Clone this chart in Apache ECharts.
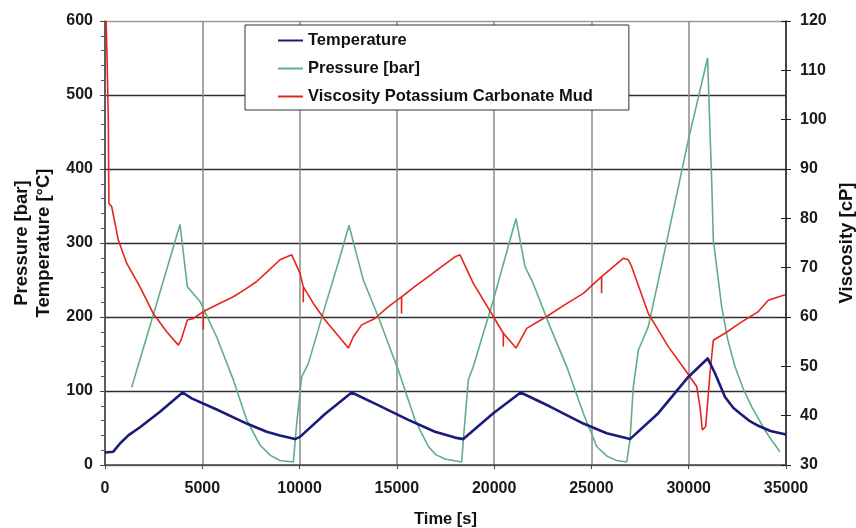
<!DOCTYPE html>
<html>
<head>
<meta charset="utf-8">
<script src="https://cdn.jsdelivr.net/npm/echarts@6/dist/echarts.min.js"></script>
<style>
  html, body { margin: 0; padding: 0; background: #fff; }
  #chart { width: 856px; height: 528px; }
</style>
</head>
<body>
<div id="chart"></div>
<script>
// Time axis ticks (s) and value-axis ticks
const timeTicks = [0, 5000, 10000, 15000, 20000, 25000, 30000, 35000];
const leftTicks = [0, 100, 200, 300, 400, 500, 600];
const rightTicks = [30, 40, 50, 60, 70, 80, 90, 100, 110, 120];

// Temperature [°C] vs time [s]
const tempTime = [0, 428, 771, 1200, 1799, 2827, 3991, 4454, 5739, 7281, 8310, 8994, 9765,
  10022, 11307, 12678, 13877, 15590, 16960, 17988, 18416, 19958, 21364, 22871, 24584, 25784,
  26982, 28437, 29979, 30974, 31351, 31865, 32300, 32723, 33100, 33576, 34200, 34948, 35000];
const tempValue = [17, 18, 29, 40, 51, 72, 98, 90, 75, 56, 45, 40, 35,
  38, 69, 98, 83, 61, 45, 37, 35, 70, 98, 79, 56, 43,
  35, 70, 119, 144, 124, 92, 77, 68, 60, 53, 46, 41.5, 41];

// Pressure [bar] vs time [s]
const presTime = [1370, 2484, 3855, 4232, 4883, 5739, 6596, 7281, 7966, 8500, 8994, 9680, 9851,
  10108, 10450, 11307, 12078, 12541, 12935, 13277, 14048, 15075, 15932, 16617, 17000, 17474, 18330,
  18416, 18673, 18930, 19958, 21124, 21587, 22013, 22871, 23728, 24584, 25270, 25800, 26298, 26811,
  26982, 27153, 27410, 27924, 28781, 29979, 30970, 31100, 31180, 31265, 31694, 32000, 32378, 32800,
  33234, 33600, 33919, 34300, 34690];
const presValue = [105, 203, 325, 241, 221, 173, 115, 61, 27, 13, 6, 4, 56,
  119, 137, 214, 281, 324, 284, 250, 200, 128, 61, 25, 14, 8, 4,
  34, 115, 133, 223, 333, 268, 245, 187, 133, 70, 25, 12, 6, 4,
  34, 106, 155, 187, 291, 439, 550, 445, 385, 304, 214, 170, 133, 103,
  79, 62, 47, 32, 18];

// Viscosity of the potassium carbonate mud [cP] vs time [s]
const viscTime = [60, 130, 170, 200, 260, 342, 685, 1113, 1799, 2484, 3170, 3770, 3906, 4232,
  4540, 5050, 5052, 5056, 5800, 6596, 7200, 7795, 8400, 8994, 9594, 10022, 10190, 10192, 10196,
  10700, 11307, 11900, 12507, 12764, 13192, 13877, 14500, 15240, 15242, 15246, 15900, 16617,
  17300, 17988, 18245, 18930, 19958, 20470, 20472, 20476, 21124, 21673, 22700, 23600, 24584,
  25520, 25522, 25526, 26100, 26639, 26896, 27068, 27924, 28952, 29809, 30410, 30580, 30700,
  30872, 31094, 31265, 31865, 32723, 33576, 34090, 34948];
const viscValue = [120, 108, 100, 83, 82.6, 82.4, 75.6, 70.9, 66.1, 60.7, 57.0, 54.3, 55.3, 59.4,
  59.7, 61.1, 57.4, 61.1, 62.6, 64.1, 65.6, 67.2, 69.4, 71.6, 72.6, 68.9, 66.1, 63.0, 66.1,
  62.8, 59.4, 56.6, 53.7, 56.0, 58.4, 59.7, 61.9, 64.1, 60.7, 64.1, 66.1, 68.2,
  70.2, 72.2, 72.6, 66.8, 60.1, 56.7, 54.0, 56.7, 53.7, 57.7, 60.1, 62.4, 64.8,
  68.2, 64.8, 68.2, 70.1, 71.9, 71.6, 70.2, 60.7, 54.0, 49.3, 45.9, 41.8, 37.1,
  37.8, 48.6, 55.3, 56.7, 59.0, 61.1, 63.4, 64.5];

const FONT = '"Liberation Sans", Arial, sans-serif';
const zip = (xs, ys) => xs.map((x, i) => [x, ys[i]]);
const plain = v => String(v);

const chart = echarts.init(document.getElementById('chart'), null, { renderer: 'canvas' });

const tickLabel = { fontFamily: FONT, fontWeight: 'bold', fontSize: 16, color: '#1a1a1a', formatter: plain };

chart.setOption({
  backgroundColor: '#ffffff',
  animation: false,
  grid: { left: 105, right: 70, top: 21, bottom: 63, containLabel: false, outerBoundsMode: 'none' },
  legend: {
    orient: 'vertical',
    left: 245, top: 25,
    padding: [7, 36, 5, 33],
    itemGap: 11,
    itemWidth: 25, itemHeight: 2,
    icon: 'rect',
    backgroundColor: '#ffffff',
    borderColor: '#333333', borderWidth: 1,
    textStyle: { fontFamily: FONT, fontWeight: 'bold', fontSize: 16.5, color: '#111' },
    data: ['Temperature', 'Pressure [bar]', 'Viscosity Potassium Carbonate Mud']
  },
  xAxis: {
    type: 'value',
    min: timeTicks[0], max: timeTicks[timeTicks.length - 1], interval: 5000,
    name: 'Time [s]', nameLocation: 'middle', nameGap: 46,
    nameTextStyle: { fontFamily: FONT, fontWeight: 'bold', fontSize: 16.5, color: '#111' },
    axisLine: { lineStyle: { color: '#444', width: 1.5 } },
    axisTick: { show: true, length: 4, lineStyle: { color: '#444' } },
    axisLabel: Object.assign({ margin: 16 }, tickLabel),
    splitLine: { show: true, lineStyle: { color: '#8a8a8a', width: 1.5 } }
  },
  yAxis: [
    {
      type: 'value', position: 'left',
      min: leftTicks[0], max: leftTicks[leftTicks.length - 1], interval: 100,
      name: 'Pressure [bar]\nTemperature [°C]', nameLocation: 'middle', nameGap: 50,
      nameTextStyle: { fontFamily: FONT, fontWeight: 'bold', fontSize: 18.5, color: '#111', lineHeight: 22 },
      axisLine: { show: true, lineStyle: { color: '#444', width: 1.5 } },
      axisTick: { show: true, length: 5, lineStyle: { color: '#444' } },
      minorTick: { show: true, splitNumber: 5, length: 4, lineStyle: { color: '#555' } },
      axisLabel: Object.assign({ margin: 12 }, tickLabel),
      splitLine: { show: true, lineStyle: { color: ['#8a8a8a', '#2e2e2e', '#2e2e2e', '#2e2e2e', '#2e2e2e', '#2e2e2e', '#9a9a9a'], width: 1.3 } }
    },
    {
      type: 'value', position: 'right',
      min: rightTicks[0], max: rightTicks[rightTicks.length - 1], interval: 10,
      name: 'Viscosity [cP]', nameLocation: 'middle', nameGap: 50,
      nameTextStyle: { fontFamily: FONT, fontWeight: 'bold', fontSize: 18.5, color: '#111' },
      axisLine: { show: true, lineStyle: { color: '#222', width: 1.5 } },
      axisTick: { show: true, length: 5, lineStyle: { color: '#222' } },
      axisLabel: Object.assign({ margin: 14 }, tickLabel),
      splitLine: { show: false }
    },
    {
      // inner half of the crossing ticks on the viscosity axis
      type: 'value', position: 'right',
      min: rightTicks[0], max: rightTicks[rightTicks.length - 1], interval: 10,
      axisLine: { show: false },
      axisTick: { show: true, inside: true, length: 5, lineStyle: { color: '#222' } },
      axisLabel: { show: false },
      splitLine: { show: false }
    }
  ],
  series: [
    {
      name: 'Temperature', type: 'line', yAxisIndex: 0, symbol: 'none',
      data: zip(tempTime, tempValue), z: 4,
      itemStyle: { color: '#1b1b7c' },
      lineStyle: { color: '#1b1b7c', width: 2.6, join: 'round' }
    },
    {
      name: 'Pressure [bar]', type: 'line', yAxisIndex: 0, symbol: 'none',
      data: zip(presTime, presValue), z: 3,
      itemStyle: { color: '#5fae88' },
      lineStyle: { color: '#5fae88', width: 1.6 }
    },
    {
      name: 'Viscosity Potassium Carbonate Mud', type: 'line', yAxisIndex: 1, symbol: 'none',
      data: zip(viscTime, viscValue), z: 3,
      itemStyle: { color: '#e8231e' },
      lineStyle: { color: '#e8231e', width: 1.6 }
    }
  ]
});
</script>
</body>
</html>
